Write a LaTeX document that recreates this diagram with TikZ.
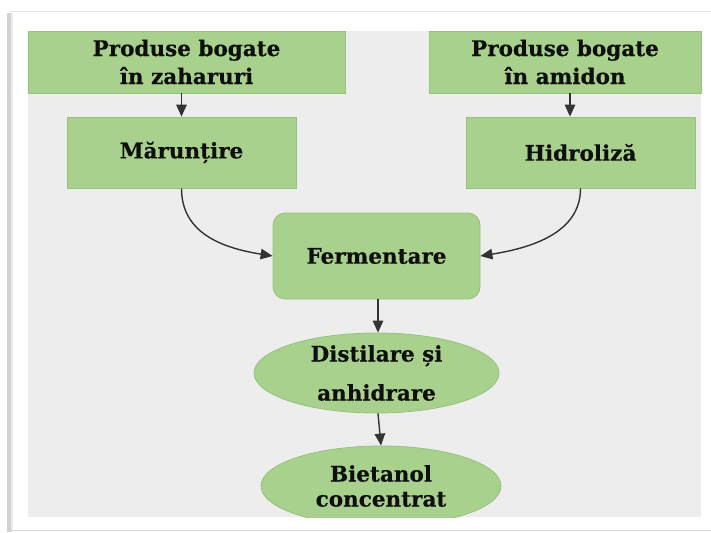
\documentclass[tikz,border=0pt]{standalone}
\usepackage{fontspec}
\setmainfont{DejaVu Serif}[BoldFeatures={FakeBold=0.5}]
\usetikzlibrary{arrows.meta,shapes.geometric}
\definecolor{panel}{HTML}{EDEDED}
\definecolor{gfill}{HTML}{A9D18E}
\definecolor{gline}{HTML}{97C27A}
\definecolor{txt}{HTML}{0F0F0F}
\definecolor{arrc}{HTML}{333333}
\begin{document}
\begin{tikzpicture}[x=1pt,y=-1pt,
  lbl/.style={text=txt, font=\bfseries\fontsize{21.5}{28}\selectfont, align=center},
  box/.style={lbl, draw=gline, fill=gfill, line width=0.8pt, inner sep=0pt},
  oval/.style={box, ellipse},
  arr/.style={draw=arrc, line width=1.4pt, -{Triangle[length=12pt,width=10.5pt]}}
]
\useasboundingbox (0,0) rectangle (711,532);
% frame with shadow
\fill[white] (0,0) rectangle (711,532);
\fill[gray!35] (7,13) rectangle (11,532);
\fill[gray!15] (11,13) rectangle (13,532);
\draw[gray!20, line width=1pt] (9,12) -- (711,12);
\draw[gray!30, line width=1.2pt] (11,530.5) -- (711,530.5);
% panel
\fill[panel] (28,31) rectangle (701,517);

\node[box, minimum width=317pt, minimum height=62pt] (b1) at (186.5,62) {Produse bogate\\în zaharuri};
\node[box, minimum width=272pt, minimum height=62pt] (b2) at (565,62) {Produse bogate\\în amidon};
\node[box, minimum width=229pt, minimum height=71pt] (m) at (181.5,152.5) {Mărunțire};
\node[box, minimum width=229pt, minimum height=71pt] (h) at (580.5,152.5) {Hidroliză};
\node[box, rounded corners=12pt, minimum width=207pt, minimum height=86pt] (f) at (376.5,256) {Fermentare};
\node[oval, minimum width=245pt, minimum height=80pt, font=\bfseries\fontsize{21.5}{39}\selectfont] (d) at (376.5,373) {Distilare și\\anhidrare};
\begin{scope}
  \clip (28,31) rectangle (701,517);
  \node[oval, minimum width=240pt, minimum height=80pt, font=\bfseries\fontsize{21.5}{25}\selectfont] (bi) at (381,486) {Bietanol\\concentrat};
\end{scope}

\draw[arr] (m.north |- b1.south) -- (m.north);
\draw[arr] ([xshift=5pt]b2.south) -- ([xshift=5pt]b2.south |- h.north);
\draw[arr] (m.south) .. controls +(0,45) and +(-50,-8) .. (f.west);
\draw[arr] (h.south) .. controls +(0,45) and +(50,-8) .. (f.east);
\draw[arr] ([xshift=1.5pt]f.south) -- ([xshift=1.5pt]d.north);
\draw[arr] ([xshift=1.5pt]d.south) -- (bi.north);
\end{tikzpicture}
\end{document}
